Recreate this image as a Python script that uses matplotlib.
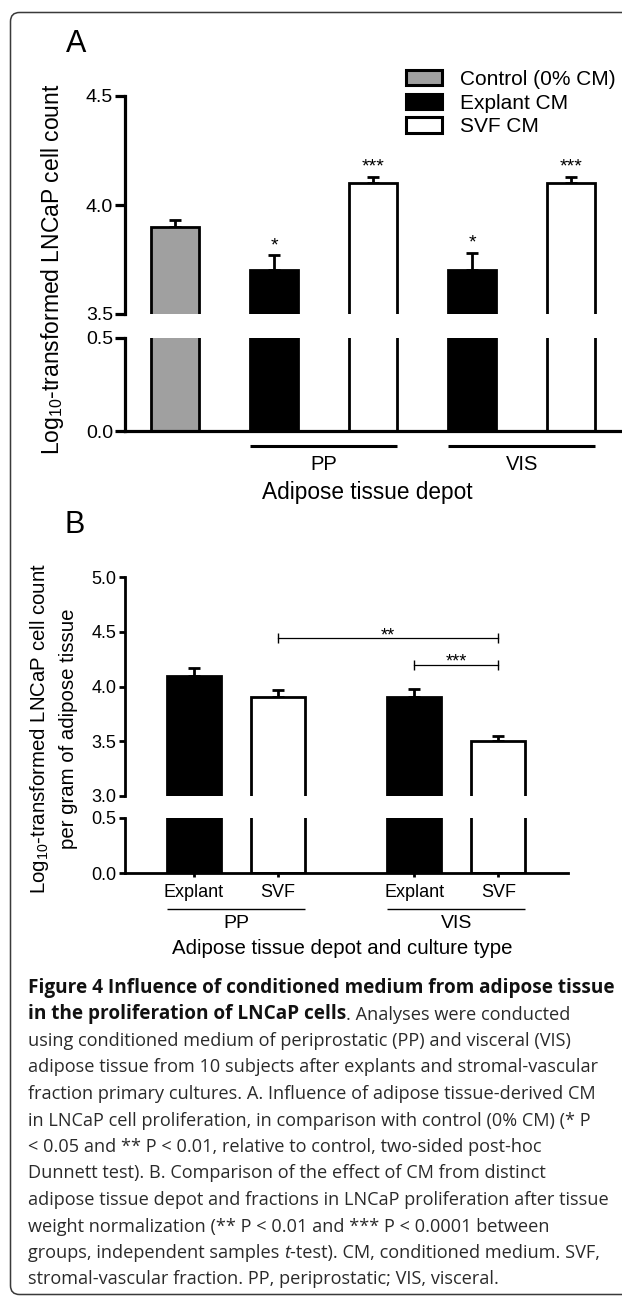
import matplotlib
matplotlib.use('Agg')
import matplotlib.pyplot as plt
import matplotlib.transforms as mtransforms
from matplotlib.patches import Patch, FancyBboxPatch
import numpy as np

plt.rcParams['font.family'] = ['Liberation Sans', 'DejaVu Sans']
plt.rcParams['mathtext.default'] = 'regular'

# Panel A: log10 LNCaP cell count per conditioned medium
a_legend = ['Control (0% CM)', 'Explant CM', 'SVF CM']
a_kind = [0, 1, 2, 1, 2]            # legend entry of each bar
a_means = [3.90, 3.70, 4.10, 3.70, 4.10]
a_err = [0.03, 0.07, 0.03, 0.08, 0.03]
a_stars = ['', '*', '***', '*', '***']
a_depots = ['PP', 'VIS']
a_depot_bars = [(1, 2), (3, 4)]

# Panel B: per gram of adipose tissue
b_labels = ['Explant', 'SVF', 'Explant', 'SVF']
b_kind = [1, 2, 1, 2]
b_means = [4.10, 3.90, 3.90, 3.50]
b_err = [0.07, 0.07, 0.08, 0.05]
b_depots = ['PP', 'VIS']
b_depot_bars = [(0, 1), (2, 3)]
b_pairs = [(1, 3), (2, 3)]
b_pair_y = [4.44, 4.20]
b_pair_stars = ['**', '***']

fills = ['#a0a0a0', 'black', 'white']

# caption, one entry per printed line: (text, style)
caption = [
    [('Figure 4 Influence of conditioned medium from adipose tissue', 'bold')],
    [('in the proliferation of LNCaP cells', 'bold'), ('. Analyses were conducted', 'normal')],
    [('using conditioned medium of periprostatic (PP) and visceral (VIS)', 'normal')],
    [('adipose tissue from 10 subjects after explants and stromal-vascular', 'normal')],
    [('fraction primary cultures. A. Influence of adipose tissue-derived CM', 'normal')],
    [('in LNCaP cell proliferation, in comparison with control (0% CM) (* P', 'normal')],
    [('< 0.05 and ** P < 0.01, relative to control, two-sided post-hoc', 'normal')],
    [('Dunnett test). B. Comparison of the effect of CM from distinct', 'normal')],
    [('adipose tissue depot and fractions in LNCaP proliferation after tissue', 'normal')],
    [('weight normalization (** P < 0.01 and *** P < 0.0001 between', 'normal')],
    [('groups, independent samples ', 'normal'), ('t', 'italic'),
     ('-test). CM, conditioned medium. SVF,', 'normal')],
    [('stromal-vascular fraction. PP, periprostatic; VIS, visceral.', 'normal')],
]

W, H = 622, 1298
fig = plt.figure(figsize=(W / 100, H / 100), dpi=100)


def box(l, t, r, b):
    return [l / W, 1 - b / H, (r - l) / W, (b - t) / H]


def below(ax, px, axes_x=False):
    base = ax.transAxes if axes_x else ax.get_xaxis_transform()
    return mtransforms.offset_copy(base, fig=fig, y=-px, units='dots')


# background + rounded frame (pixel coordinates)
bg = fig.add_axes([0, 0, 1, 1], zorder=-5)
bg.set_xlim(0, W)
bg.set_ylim(H, 0)
bg.axis('off')
bg.add_patch(FancyBboxPatch((10.5, 12.5), 650, 1282,
                            boxstyle='round,pad=0,rounding_size=9',
                            fc='none', ec='#3a3a3a', lw=1.1))

# ---------------- panel A ----------------
xa = np.arange(len(a_means))
wa = 0.485
axA_top = fig.add_axes(box(125, 96, 620, 314))
axA_bot = fig.add_axes(box(125, 338, 620, 431))
for ax in (axA_top, axA_bot):
    ax.bar(xa, a_means, wa, color=[fills[k] for k in a_kind],
           edgecolor='black', linewidth=2, zorder=2)
    ax.set_xlim(-0.505, 4.49)
    ax.spines[['top', 'right']].set_visible(False)
    ax.spines['left'].set_linewidth(2.3)
    ax.tick_params(axis='y', length=7, width=2.3, pad=1.5, labelsize=14)
    ax.set_xticks([])
    ax.yaxis.set_major_formatter('{x:.1f}')
    ax.patch.set_alpha(0)
axA_top.spines['bottom'].set_visible(False)
axA_bot.spines['bottom'].set_linewidth(2.3)
axA_top.set_ylim(3.5, 4.5)
axA_top.set_yticks([3.5, 4.0, 4.5])
axA_bot.set_ylim(0, 0.5)
axA_bot.set_yticks([0.0, 0.5])

axA_top.errorbar(xa, a_means, yerr=[np.zeros(len(xa)), a_err], fmt='none',
                 ecolor='black', elinewidth=2, capsize=4.5, capthick=2, zorder=1)
for x, m, e, s in zip(xa, a_means, a_err, a_stars):
    if s:
        axA_top.annotate(s, (x, m + e), xytext=(0, 3.6), textcoords='offset points',
                         ha='center', va='baseline', fontsize=14)

for name, (i, j) in zip(a_depots, a_depot_bars):
    x0, x1 = xa[i] - wa / 2, xa[j] + wa / 2
    axA_bot.plot([x0, x1], [0, 0], color='black', lw=2.2, transform=below(axA_bot, 15),
                 clip_on=False, solid_capstyle='butt')
    axA_bot.text((x0 + x1) / 2, 0, name, transform=below(axA_bot, 33),
                 ha='center', va='center', fontsize=14.5)
axA_bot.text(0.49, 0, 'Adipose tissue depot', transform=below(axA_bot, 61, True),
             ha='center', va='center', fontsize=16.3)

fig.text(53 / W, 1 - 269 / H, 'Log$_{10}$-transformed LNCaP cell count',
         rotation=90, ha='center', va='center', fontsize=16.5)
fig.text(76.5 / W, 1 - 52 / H, 'A', fontsize=22, ha='center', va='baseline')

handles = [Patch(facecolor=c, edgecolor='black', linewidth=2.2) for c in fills]
fig.legend(handles, a_legend, loc='upper left', bbox_to_anchor=(406 / W, 1 - 70 / H),
           frameon=False, fontsize=15, handlelength=1.75, handleheight=0.75,
           handletextpad=0.85, labelspacing=0.22, borderpad=0, borderaxespad=0)

# ---------------- panel B ----------------
xb = np.array([0, 1, 2.62, 3.62])
wb = 0.64
axB_top = fig.add_axes(box(125, 577, 568, 796))
axB_bot = fig.add_axes(box(125, 818, 568, 873))
for ax in (axB_top, axB_bot):
    ax.bar(xb, b_means, wb, color=[fills[k] for k in b_kind],
           edgecolor='black', linewidth=2, zorder=2)
    ax.set_xlim(-0.82, 4.45)
    ax.spines[['top', 'right']].set_visible(False)
    ax.spines['left'].set_linewidth(2)
    ax.tick_params(axis='y', length=4.5, width=2, pad=1.5, labelsize=13)
    ax.yaxis.set_major_formatter('{x:.1f}')
    ax.patch.set_alpha(0)
axB_top.spines['bottom'].set_visible(False)
axB_top.set_xticks([])
axB_top.set_ylim(3, 5)
axB_top.set_yticks(np.arange(3.0, 5.01, 0.5))
axB_bot.spines['bottom'].set_linewidth(2)
axB_bot.set_ylim(0, 0.5)
axB_bot.set_yticks([0.0, 0.5])
axB_bot.set_xticks(xb, b_labels)
axB_bot.tick_params(axis='x', length=3, width=2, pad=5, labelsize=13)

axB_top.errorbar(xb, b_means, yerr=[np.zeros(len(xb)), b_err], fmt='none',
                 ecolor='black', elinewidth=2, capsize=4, capthick=2, zorder=1)
for (i, j), y, s in zip(b_pairs, b_pair_y, b_pair_stars):
    axB_top.plot([xb[i], xb[j]], [y, y], color='black', lw=0.9, marker='|',
                 ms=7, mew=1.0, clip_on=False)
    axB_top.annotate(s, ((xb[i] + xb[j]) / 2, y), xytext=(0, -1.5),
                     textcoords='offset points', ha='center', va='baseline', fontsize=13)

for name, (i, j) in zip(b_depots, b_depot_bars):
    x0, x1 = xb[i] - wb / 2, xb[j] + wb / 2
    axB_bot.plot([x0, x1], [0, 0], color='black', lw=1, transform=below(axB_bot, 36),
                 clip_on=False, solid_capstyle='butt')
    axB_bot.text((x0 + x1) / 2, 0, name, transform=below(axB_bot, 51),
                 ha='center', va='center', fontsize=14)
axB_bot.text(0.49, 0, 'Adipose tissue depot and culture type',
             transform=below(axB_bot, 75, True), ha='center', va='center', fontsize=14.7)

fig.text(40 / W, 1 - 729 / H, 'Log$_{10}$-transformed LNCaP cell count',
         rotation=90, ha='center', va='center', fontsize=14.7)
fig.text(68 / W, 1 - 729 / H, 'per gram of adipose tissue',
         rotation=90, ha='center', va='center', fontsize=14.7)
fig.text(75 / W, 1 - 533 / H, 'B', fontsize=22, ha='center', va='baseline')

# ---------------- caption ----------------
renderer = fig.canvas.get_renderer()
styles = {
    'bold': dict(family='Open Sans', weight='bold', color='#111111'),
    'normal': dict(family='Open Sans', color='#2a2a2a'),
    'italic': dict(family='Open Sans', style='italic', color='#2a2a2a'),
}


def text_w(s, size, style):
    t = bg.text(0, 0, s + '|', fontsize=size, **styles[style])
    w = t.get_window_extent(renderer).width
    t.set_text('|')
    w -= t.get_window_extent(renderer).width
    t.remove()
    return w


def line_w(line, size):
    return sum(text_w(s, size, st) for s, st in line)


bold_size = 10 * 586 / text_w(caption[0][0][0], 10, 'bold')
reg_size = 10 * 562 / text_w(caption[2][0][0], 10, 'normal')
widest = max(line_w(line, 10) for line in caption[2:])
reg_size = min(reg_size, 10 * 584 / widest)
sizes = {'bold': bold_size, 'normal': reg_size, 'italic': reg_size}

for k, line in enumerate(caption):
    x = 28
    y = 993 + 26.5 * k
    for s, st in line:
        bg.text(x, y, s, fontsize=sizes[st], ha='left', va='baseline', **styles[st])
        x += text_w(s, sizes[st], st)

fig.savefig('out.png', dpi=100)
